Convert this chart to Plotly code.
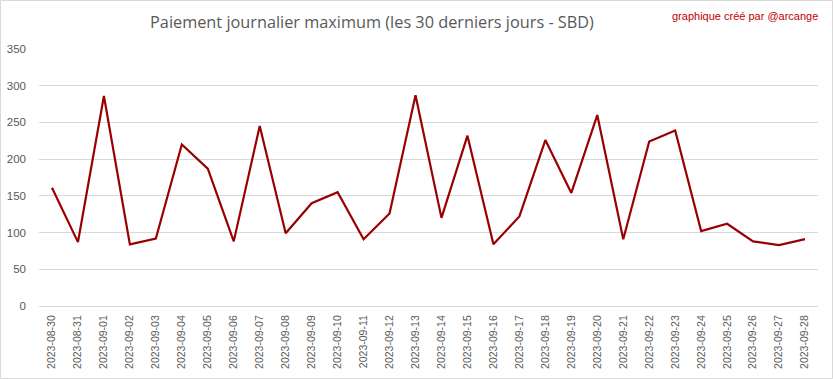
import plotly.graph_objects as go

dates = ["2023-08-30", "2023-08-31", "2023-09-01", "2023-09-02", "2023-09-03",
         "2023-09-04", "2023-09-05", "2023-09-06", "2023-09-07", "2023-09-08",
         "2023-09-09", "2023-09-10", "2023-09-11", "2023-09-12", "2023-09-13",
         "2023-09-14", "2023-09-15", "2023-09-16", "2023-09-17", "2023-09-18",
         "2023-09-19", "2023-09-20", "2023-09-21", "2023-09-22", "2023-09-23",
         "2023-09-24", "2023-09-25", "2023-09-26", "2023-09-27", "2023-09-28"]
max_payout = [161, 87, 286, 84, 92, 220, 187, 88, 245, 99,
              140, 155, 91, 126, 287, 120, 232, 84, 122, 226,
              154, 260, 91, 224, 239, 102, 112, 88, 83, 91]
y_ticks = [0, 50, 100, 150, 200, 250, 300, 350]

W, H = 833, 379
L, R, T, B = 39, 15, 49, 73
pw, ph = W - L - R, H - T - B

fig = go.Figure()
fig.add_trace(go.Scatter(x=dates, y=max_payout, mode="lines",
                         line=dict(color="#990000", width=2.2), hoverinfo="x+y"))

fig.update_layout(
    width=W, height=H,
    margin=dict(l=L, r=R, t=T, b=B),
    paper_bgcolor="white", plot_bgcolor="white",
    showlegend=False,
    font=dict(family="Liberation Sans, Arial, sans-serif", color="#595959"),
    title=dict(text="Paiement journalier maximum (les 30 derniers jours - SBD)",
               x=372 / W, xanchor="center", y=1 - 22 / H, yanchor="middle",
               font=dict(size=16.3, color="#595959", family="Open Sans, Liberation Sans, sans-serif")),
    xaxis=dict(type="category", tickangle=-90, range=[-0.5, len(dates) - 0.5],
               showgrid=False, showline=True, linecolor="#d9d9d9", linewidth=1,
               ticks="", tickfont=dict(size=10.5, color="#595959"), ticklabelstandoff=4,
               automargin=False),
    yaxis=dict(range=[0, 350], tickvals=y_ticks, showgrid=True, gridcolor="#d9d9d9",
               gridwidth=1, zeroline=False, showline=False, ticks="",
               tickfont=dict(size=11.5, color="#595959"), ticklabelstandoff=12,
               automargin=False),
    annotations=[dict(text="graphique créé par @arcange", xref="paper", yref="paper",
                      x=(820 - L) / pw, y=(H - 16 - B) / ph, xanchor="right", yanchor="middle",
                      showarrow=False,
                      font=dict(size=11, color="#c00000", family="Liberation Sans Narrow, Liberation Sans, sans-serif"))],
    shapes=[dict(type="rect", xref="paper", yref="paper",
                 x0=(0.5 - L) / pw, x1=(W - 0.5 - L) / pw,
                 y0=-(B - 0.5) / ph, y1=(H - 0.5 - B) / ph,
                 line=dict(color="#d9d9d9", width=1), fillcolor="rgba(0,0,0,0)", layer="below")],
)

fig.write_html("out.html", config={"displayModeBar": False},
               post_script="document.body.style.margin='0';document.body.style.overflow='hidden';")
